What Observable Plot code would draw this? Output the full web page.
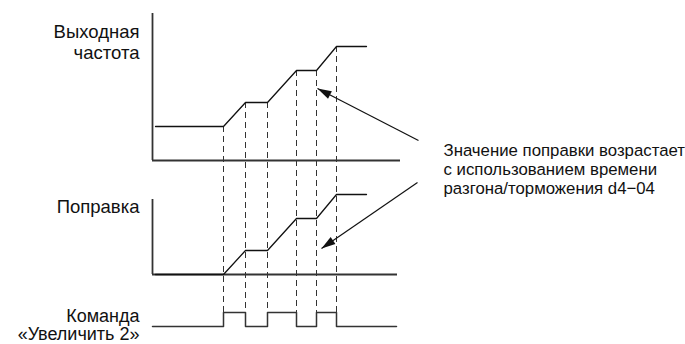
<!DOCTYPE html>
<html><head><meta charset="utf-8">
<script src="https://cdn.jsdelivr.net/npm/d3@7"></script>
<script src="https://cdn.jsdelivr.net/npm/@observablehq/plot@0.6"></script>
<style>body{margin:0;background:#fff}</style>
</head><body><div id="chart"></div>
<script>
// ---- data (time in s, signal levels in arbitrary units) ----
const eventTimes = [7.1, 9.3, 11.5, 14.4, 16.4, 18.4];          // edges of the "Увеличить 2" command
const traceTimes = [0.3, 7.1, 9.3, 11.5, 14.4, 16.4, 18.4, 21.4];
const outputFreq = [17, 17, 29, 29, 45, 45, 57, 57];            // Выходная частота
const biasValues = [0, 0, 12, 12, 28, 28, 40, 40];              // Поправка
const cmdTimes   = [0, 7.1, 9.3, 11.5, 14.4, 16.4, 18.4, 24.4];
const cmdState   = [0, 1, 0, 1, 0, 1, 0, 0];                    // Команда «Увеличить 2»
const labelOutput = "Выходная\nчастота";
const labelBias   = "Поправка";
const labelCmd    = "Команда\n«Увеличить 2»";
const noteText    = "Значение поправки возрастает\nс использованием времени\nразгона/торможения d4−04";

// ---- layout (panel offsets on the shared y scale) ----
const W = 685, H = 344;
const xDomain = [0, 25], xRange = [152, 402];
const yDomain = [0, 172], yRange = [H, 0];
const pxX = (xRange[1] - xRange[0]) / (xDomain[1] - xDomain[0]);
const pxY = (yRange[0] - yRange[1]) / (yDomain[1] - yDomain[0]);
const freqBase = 92, freqTop = 165.5, freqEnd = 24.8;
const biasBase = 35, biasTop = 72.5, biasEnd = 24.5;
const cmdBase = 9, cmdAmp = 7;
const labelX = -1.3, noteX = 29.1;
const arrows = [
  {x1: 26.6, y1: 102, x2: 16.5, y2: 128},
  {x1: 26.5, y1: 81,  x2: 16.9, y2: 48}
];
const rot = d => Math.atan2((d.x2 - d.x1) * pxX, (d.y2 - d.y1) * pxY) * 180 / Math.PI;

const ink = "#111", axisInk = "#333";
const font = "'Liberation Sans', Arial, Helvetica, sans-serif";

const plot = Plot.plot({
  width: W, height: H,
  margin: 0,
  x: {domain: xDomain, range: xRange, axis: null},
  y: {domain: yDomain, range: yRange, axis: null},
  style: {fontFamily: font, background: "#fff", color: ink},
  marks: [
    // dashed timing guides
    Plot.ruleX(eventTimes, {
      x: d => d,
      y1: d => freqBase + outputFreq[traceTimes.indexOf(d)],
      y2: cmdBase + cmdAmp,
      stroke: axisInk, strokeWidth: 1, strokeDasharray: "6,4"
    }),
    // axes of the two upper panels
    Plot.ruleX([0], {y1: freqBase, y2: freqTop, stroke: axisInk, strokeWidth: 1.8}),
    Plot.ruleY([freqBase], {x1: 0, x2: freqEnd, stroke: axisInk, strokeWidth: 1.8}),
    Plot.ruleX([0], {y1: biasBase, y2: biasTop, stroke: axisInk, strokeWidth: 1.8}),
    Plot.ruleY([biasBase], {x1: 0, x2: biasEnd, stroke: axisInk, strokeWidth: 1.8}),
    // traces
    Plot.line(traceTimes, {x: d => d, y: (d, i) => freqBase + outputFreq[i], stroke: ink, strokeWidth: 1.3}),
    Plot.line(traceTimes, {x: d => d, y: (d, i) => biasBase + biasValues[i], stroke: ink, strokeWidth: 1.3}),
    Plot.line(cmdTimes, {x: d => d, y: (d, i) => cmdBase + cmdState[i] * cmdAmp, curve: "step-after", stroke: axisInk, strokeWidth: 1.5}),
    // annotation arrows
    Plot.link(arrows, {x1: "x1", y1: "y1", x2: "x2", y2: "y2", stroke: ink, strokeWidth: 1.2}),
    Plot.vector(arrows, {x: "x2", y: "y2", rotate: rot, length: 14, r: 4.2, shape: "spike", anchor: "end", fill: ink, stroke: "none"}),
    // labels
    Plot.text([labelOutput], {x: labelX, y: freqTop - 5, text: d => d, textAnchor: "end", lineAnchor: "top", fontSize: 18.5, lineHeight: 1.13, fill: ink}),
    Plot.text([labelBias], {x: labelX, y: biasTop, text: d => d, textAnchor: "end", lineAnchor: "top", fontSize: 18.5, fill: ink}),
    Plot.text([labelCmd], {x: labelX, y: cmdBase + 8.65, text: d => d, textAnchor: "end", lineAnchor: "top", fontSize: 18, lineHeight: 1.0, fill: ink}),
    Plot.text([noteText], {x: noteX, y: 101.2, text: d => d, textAnchor: "start", lineAnchor: "top", fontSize: 16.8, lineHeight: 1.15, fill: ink})
  ]
});
document.getElementById("chart").appendChild(plot);
</script>
</body></html>
